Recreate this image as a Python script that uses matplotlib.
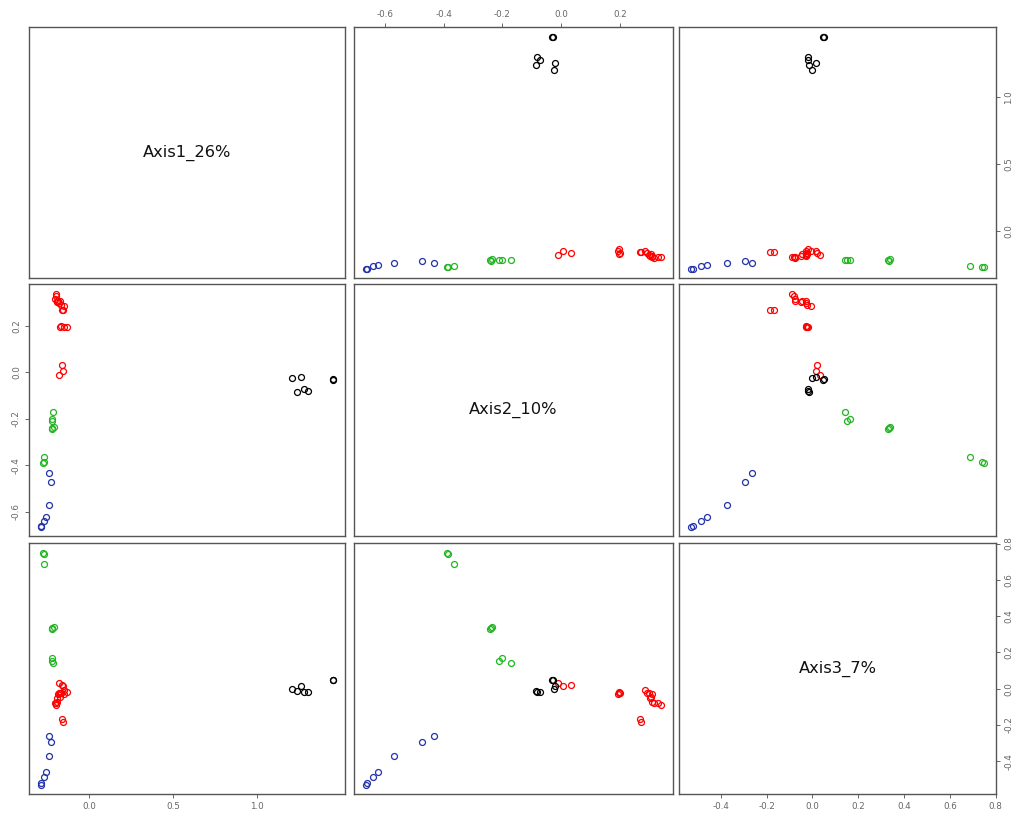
import matplotlib
matplotlib.use("Agg")
import matplotlib.pyplot as plt
import numpy as np

# Ordination scores of the samples on the first three axes
group = (["blue"] * 7) + (["green"] * 9) + (["red"] * 19) + (["black"] * 7)

axis1 = [-0.285, -0.283, -0.265, -0.257, -0.239, -0.227, -0.240,
         -0.272, -0.268, -0.265, -0.222, -0.210, -0.218, -0.215, -0.221, -0.218,
         -0.195, -0.198, -0.200, -0.192, -0.190, -0.175, -0.185, -0.180, -0.165,
         -0.150, -0.155, -0.160, -0.175, -0.165, -0.150, -0.132, -0.178, -0.152, -0.162,
         1.450, 1.452, 1.205, 1.258, 1.238, 1.280, 1.302]

axis2 = [-0.665, -0.660, -0.640, -0.625, -0.570, -0.472, -0.432,
         -0.390, -0.386, -0.366, -0.239, -0.235, -0.242, -0.169, -0.211, -0.202,
         0.340, 0.330, 0.318, 0.308, 0.302, 0.307, 0.310, 0.300, 0.292,
         0.286, 0.271, 0.268, 0.197, 0.200, 0.195, 0.198, -0.012, 0.005, 0.033,
         -0.027, -0.031, -0.025, -0.021, -0.086, -0.072, -0.081]

axis3 = [-0.530, -0.520, -0.488, -0.462, -0.373, -0.293, -0.264,
         0.750, 0.742, 0.686, 0.333, 0.338, 0.328, 0.141, 0.150, 0.166,
         -0.088, -0.080, -0.078, -0.075, -0.052, -0.045, -0.028, -0.026, -0.022,
         -0.006, -0.186, -0.166, -0.022, -0.026, -0.029, -0.020, 0.033, 0.015, 0.020,
         0.050, 0.045, -0.003, 0.016, -0.013, -0.020, -0.018]

axis_names = ["Axis1_26%", "Axis2_10%", "Axis3_7%"]

axis_ticks = [[0.0, 0.5, 1.0],
              [-0.6, -0.4, -0.2, 0.0, 0.2],
              [-0.4, -0.2, 0.0, 0.2, 0.4, 0.6, 0.8]]

group_colors = {"black": "#000000", "red": "#FF0000",
                "green": "#22B522", "blue": "#2233AA"}
draw_order = ["blue", "green", "red", "black"]

data = [np.array(axis1), np.array(axis2), np.array(axis3)]
groups = np.array(group)


def padded_range(v):
    lo, hi = v.min(), v.max()
    span = hi - lo
    return lo - 0.04 * span, hi + 0.04 * span


limits = [padded_range(v) for v in data]

W, H = 1019, 814
fig = plt.figure(figsize=(W / 100, H / 100), dpi=100)
fig.patch.set_facecolor("white")

cols = [(29.3, 345.0), (354.0, 672.7), (679.3, 996.0)]
rows = [(27.3, 278.3), (284.3, 536.0), (543.3, 794.0)]

frame_col = "#555555"
tick_col = "#666666"


def fmt(t):
    return f"{t:.1f}"


axes = {}
for i in range(3):
    for j in range(3):
        x0, x1 = cols[j]
        y0, y1 = rows[i]
        ax = fig.add_axes([x0 / W, 1 - y1 / H, (x1 - x0) / W, (y1 - y0) / H])
        ax.set_xlim(*limits[j])
        ax.set_ylim(*limits[i])
        for s in ax.spines.values():
            s.set_color(frame_col)
            s.set_linewidth(1.0)
        ax.set_xticks([])
        ax.set_yticks([])
        ax.tick_params(which="both", direction="out", length=3, width=0.7,
                       color=tick_col, labelcolor=tick_col, labelsize=6.3, pad=3)
        if i == j:
            ax.text(0.5, 0.5, axis_names[i], transform=ax.transAxes,
                    ha="center", va="center", fontsize=11.7, color="#111111",
                    family="DejaVu Sans")
        else:
            for g in draw_order:
                m = groups == g
                ax.plot(data[j][m], data[i][m], linestyle="none", marker="o",
                        ms=4.3, mew=0.9, mfc="none", mec=group_colors[g])
        axes[(i, j)] = ax

# Alternating axis annotation around the matrix
# top of column 2
ax = axes[(0, 1)]
ax.xaxis.set_ticks_position("top")
ax.set_xticks(axis_ticks[1])
ax.set_xticklabels([fmt(t) for t in axis_ticks[1]])

# right of row 1
ax = axes[(0, 2)]
ax.yaxis.set_ticks_position("right")
ax.set_yticks(axis_ticks[0])
ax.set_yticklabels([fmt(t) for t in axis_ticks[0]], rotation=90, va="center")

# left of row 2
ax = axes[(1, 0)]
ax.yaxis.set_ticks_position("left")
ax.set_yticks(axis_ticks[1])
ax.set_yticklabels([fmt(t) for t in axis_ticks[1]], rotation=90, va="center")

# bottom of column 1
ax = axes[(2, 0)]
ax.xaxis.set_ticks_position("bottom")
ax.set_xticks(axis_ticks[0])
ax.set_xticklabels([fmt(t) for t in axis_ticks[0]])

# bottom of column 3 and right of row 3
ax = axes[(2, 2)]
ax.xaxis.set_ticks_position("bottom")
ax.set_xticks(axis_ticks[2])
ax.set_xticklabels([fmt(t) for t in axis_ticks[2]])
ax.yaxis.set_ticks_position("right")
ax.set_yticks(axis_ticks[2])
ax.set_yticklabels([fmt(t) for t in axis_ticks[2]], rotation=90, va="center")

fig.savefig("out.png", dpi=100, facecolor="white")
